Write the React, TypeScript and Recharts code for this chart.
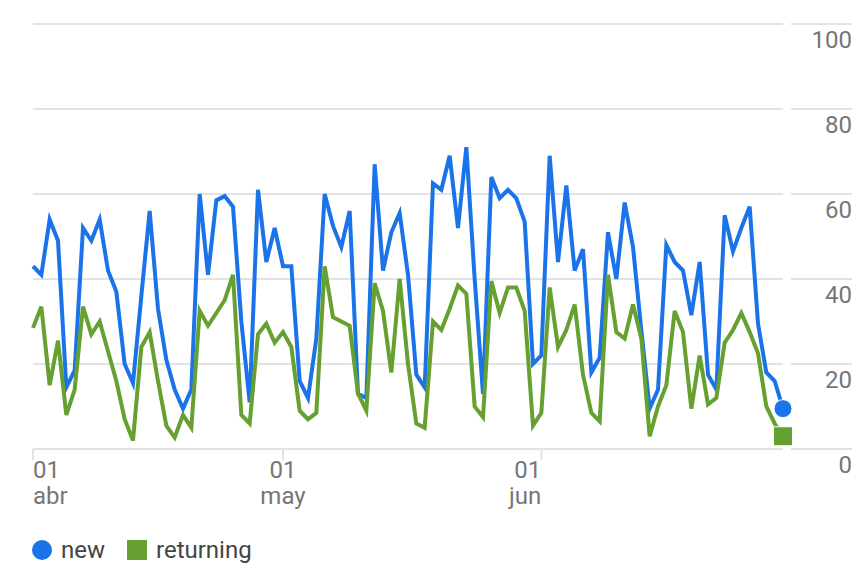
import { LineChart, Line, XAxis, YAxis, CartesianGrid } from 'recharts'

// daily users, 01 abr .. 30 jun
const NEW_USERS = [
  43, 41, 54, 49, 14.5, 18.5, 52, 49, 54, 42,
  37, 20, 15.5, 36, 56, 33, 21, 14, 9.5, 14,
  60, 41, 58.5, 59.5, 57, 30, 11, 61, 44, 52,
  43, 43, 16, 12, 26, 60, 52.5, 47.5, 56, 13,
  12, 67, 42, 51, 55.5, 41, 17.5, 14.5, 62.5, 61,
  69, 52, 71, 40, 13, 64, 59, 61, 59, 53.5,
  20, 22, 69, 44, 62, 42, 47, 18, 21.5, 51,
  40, 58, 47.5, 28, 9.5, 14, 48, 44, 42, 31.5,
  44, 17.5, 14, 55, 46.5, 52, 57, 29.5, 18, 16,
  9.5,
]

const RETURNING_USERS = [
  28.5, 33.5, 15, 25.5, 8, 14, 33.5, 27, 30, 23,
  16, 7, 2, 24, 27.5, 16, 5.5, 2.7, 8, 5,
  32.5, 29, 32, 35, 41, 8, 6, 27, 29.5, 25,
  27.5, 24, 9, 7, 8.5, 43, 31, 30, 29, 13,
  9, 39, 32.5, 18, 40, 20, 6, 5, 30, 28,
  33, 38.5, 36.5, 10, 7.5, 39.5, 32, 38, 38, 32.5,
  5.5, 8.5, 38, 24, 28, 34, 17.5, 8.5, 6.5, 41,
  27.5, 26, 34, 26, 3, 10, 15, 32.5, 27.5, 9.5,
  22, 10.5, 12, 25, 28, 32, 27.5, 22.5, 10, 6,
  3,
]

const MONTH_TICKS = [0, 30, 61]
const MONTH_LABELS = ['abr', 'may', 'jun']
const DAY_LABEL = '01'
const Y_TICKS = [0, 20, 40, 60, 80, 100]

const BLUE = '#1a73e8'
const GREEN = '#65a030'
const GRID = '#e3e3e3'
const MUTED = '#767676'
const FONT = 'Roboto, "Noto Sans", sans-serif'

const TICK_ANCHORS: Array<'start' | 'middle' | 'end'> = ['start', 'middle', 'end']

const data = NEW_USERS.map((v, i) => ({ day: i, new: v, returning: RETURNING_USERS[i] }))
const LAST = data.length - 1

function MonthTick(props: any) {
  const { x, y, payload } = props
  const i = MONTH_TICKS.indexOf(payload.value)
  const anchor = TICK_ANCHORS[i] ?? 'middle'
  return (
    <g fontFamily={FONT} fontSize={24} fill={MUTED}>
      <text x={x} y={y + 18} textAnchor={anchor}>{DAY_LABEL}</text>
      <text x={x} y={y + 44} textAnchor={anchor}>{MONTH_LABELS[i]}</text>
    </g>
  )
}

function ValueTick(props: any) {
  const { x, y, payload } = props
  return (
    <g>
      <line x1={x + 8} x2={x + 69} y1={y} y2={y} stroke={GRID} strokeWidth={2} />
      <text x={x + 69} y={y + 24} textAnchor="end" fontFamily={FONT} fontSize={24} fill={MUTED}>
        {payload.value}
      </text>
    </g>
  )
}

function EndCircle(props: any) {
  const { cx, cy, index } = props
  if (index !== LAST) return <g key={`c${index}`} />
  return <circle key={`c${index}`} cx={cx} cy={cy} r={9} fill={BLUE} stroke="#fff" strokeWidth={1} />
}

function EndSquare(props: any) {
  const { cx, cy, index } = props
  if (index !== LAST) return <g key={`s${index}`} />
  return <rect key={`s${index}`} x={cx - 9.5} y={cy - 9.5} width={19} height={19} fill={GREEN} stroke="#fff" strokeWidth={1} />
}

export default function App() {
  return (
    <div style={{ position: 'absolute', left: 0, top: 0, width: 856, height: 568, background: '#fff' }}>
      <LineChart width={856} height={568} data={data} margin={{ top: 24, right: 0, bottom: 0, left: 33 }}>
        <CartesianGrid vertical={false} stroke={GRID} strokeWidth={2} />
        <XAxis
          dataKey="day"
          type="number"
          domain={[0, LAST]}
          ticks={MONTH_TICKS}
          interval={0}
          height={119}
          tickSize={11}
          tickMargin={0}
          axisLine={{ stroke: GRID, strokeWidth: 2 }}
          tickLine={{ stroke: GRID, strokeWidth: 2 }}
          tick={MonthTick}
        />
        <YAxis
          orientation="right"
          width={73}
          domain={[0, 100]}
          ticks={Y_TICKS}
          interval={0}
          axisLine={false}
          tickLine={false}
          tickSize={0}
          tickMargin={0}
          tick={ValueTick}
        />
        <Line
          type="linear"
          dataKey="new"
          stroke={BLUE}
          strokeWidth={4}
          dot={EndCircle}
          activeDot={false}
          isAnimationActive={false}
        />
        <Line
          type="linear"
          dataKey="returning"
          stroke={GREEN}
          strokeWidth={4}
          dot={EndSquare}
          activeDot={false}
          isAnimationActive={false}
        />
      </LineChart>
      <div
        style={{
          position: 'absolute', left: 32, top: 536, height: 28,
          display: 'flex', alignItems: 'center',
          fontFamily: FONT, fontSize: 24, color: '#444',
        }}
      >
        <span style={{ width: 20, height: 20, borderRadius: 10, background: BLUE, display: 'inline-block' }} />
        <span style={{ marginLeft: 9 }}>new</span>
        <span style={{ width: 20, height: 20, background: GREEN, display: 'inline-block', marginLeft: 22 }} />
        <span style={{ marginLeft: 9 }}>returning</span>
      </div>
    </div>
  )
}
